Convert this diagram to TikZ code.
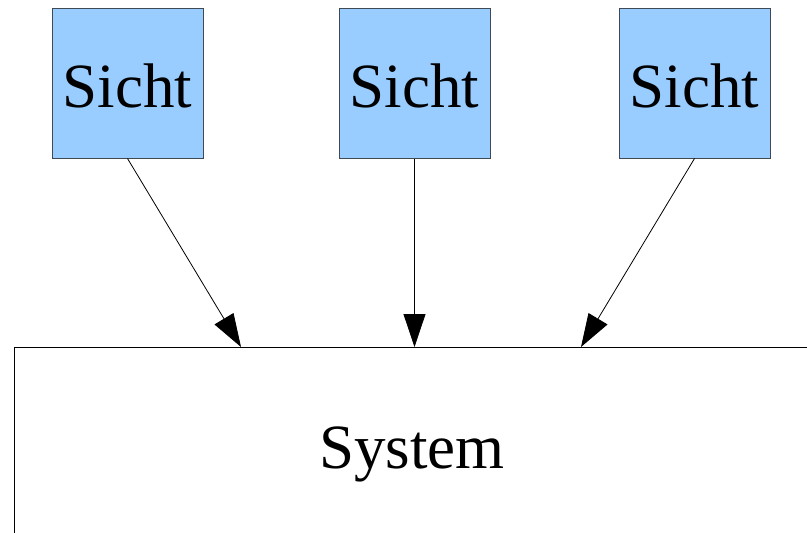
\documentclass[tikz,border=0pt]{standalone}
\usepackage{fontspec}
\setmainfont{Liberation Serif}
\usetikzlibrary{arrows.meta}
\definecolor{sichtblau}{HTML}{99CCFF}
\definecolor{rand}{HTML}{3F4A55}
\newcommand{\tief}[2]{\raisebox{-#1pt}[\height][\depth]{#2}}
\begin{document}
\begin{tikzpicture}[x=1pt,y=-1pt,
    sicht/.style={draw=rand,fill=sichtblau,line width=1pt,minimum width=151pt,minimum height=150pt,inner sep=0pt,font=\fontsize{63}{70}\selectfont},
    pfeil/.style={line width=0.8pt,-{Triangle[length=33pt,width=22pt]}}]
    \useasboundingbox (0,0) rectangle (807,533);
    \clip (0,0) rectangle (807,533);
    \node[sicht] (s1) at (127.5,83) {\tief{3}{Sicht}};
    \node[sicht] (s2) at (414.5,83) {\tief{3}{Sicht}};
    \node[sicht] (s3) at (694.5,83) {\tief{3}{Sicht}};
    \node[draw,line width=1pt,minimum width=796pt,minimum height=206pt,inner sep=0pt,font=\fontsize{63}{70}\selectfont] (system) at (412,450) {\tief{4.5}{System}};
    \coordinate (e1) at (241,347);
    \coordinate (e2) at (414.5,347);
    \coordinate (e3) at (581,347);
    \draw[pfeil] (s1.south) -- (e1);
    \draw[pfeil] (s2.south) -- (e2);
    \draw[pfeil] (s3.south) -- (e3);
\end{tikzpicture}
\end{document}
